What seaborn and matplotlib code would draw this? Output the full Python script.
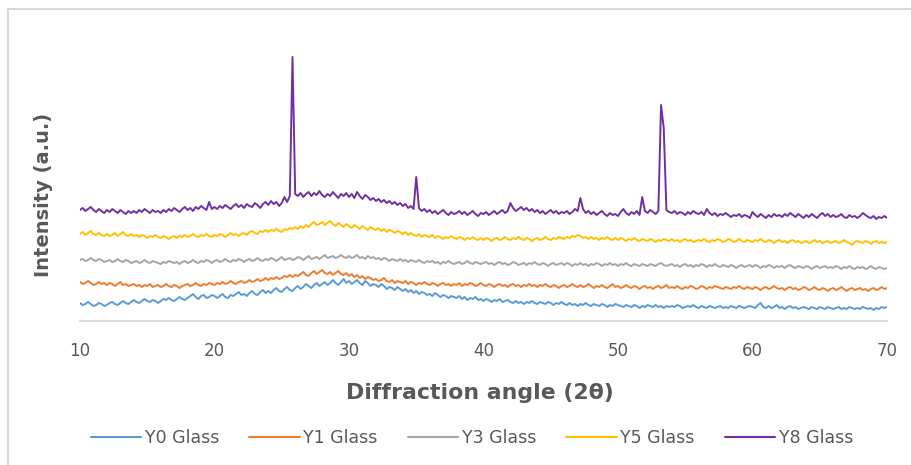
import numpy as np
import pandas as pd
import matplotlib
matplotlib.use("Agg")
import matplotlib.pyplot as plt
from matplotlib.lines import Line2D
import seaborn as sns

# Scan grid: 10-70 degrees 2-theta, 0.2 degree step
angles = np.round(np.arange(10.0, 70.0001, 0.2), 1)

series_names = ["Y0 Glass", "Y1 Glass", "Y3 Glass", "Y5 Glass", "Y8 Glass"]
series_colors = ["#5B9BD5", "#ED7D31", "#A5A5A5", "#FFC000", "#7030A0"]

# Intensities (a.u.), patterns already stacked with their vertical offsets
y0 = [
    18, 16, 17, 19, 17, 15, 16, 18, 17, 15,
    16, 18, 19, 17, 16, 18, 20, 18, 17, 19,
    21, 19, 18, 20, 22, 20, 19, 21, 20, 18,
    20, 22, 21, 23, 21, 20, 22, 24, 22, 21,
    23, 25, 27, 24, 22, 25, 26, 23, 24, 26,
    25, 23, 25, 27, 24, 23, 26, 25, 27, 29,
    26, 27, 25, 28, 30, 27, 26, 29, 31, 28,
    30, 28, 31, 33, 30, 29, 32, 34, 31, 30,
    33, 35, 32, 34, 37, 35, 33, 36, 38, 35,
    37, 39, 36, 38, 41, 38, 36, 39, 42, 38,
    40, 37, 39, 41, 38, 36, 40, 38, 35, 37,
    36, 34, 37, 35, 32, 34, 33, 31, 34, 32,
    30, 32, 29, 31, 28, 30, 27, 29, 28, 26,
    27, 25, 28, 26, 24, 26, 25, 23, 25, 24,
    23, 25, 22, 24, 21, 23, 22, 24, 21, 22,
    20, 22, 21, 19, 21, 20, 22, 19, 20, 21,
    19, 18, 20, 18, 19, 17, 19, 18, 20, 18,
    17, 19, 18, 17, 19, 18, 16, 18, 17, 19,
    17, 16, 18, 16, 17, 15, 17, 16, 18, 16,
    15, 17, 16, 15, 17, 16, 14, 16, 15, 17,
    16, 15, 14, 16, 15, 14, 16, 15, 13, 15,
    14, 16, 15, 14, 16, 14, 15, 13, 15, 14,
    15, 14, 16, 15, 13, 14, 15, 14, 16, 14,
    13, 15, 14, 13, 15, 14, 13, 14, 15, 13,
    14, 13, 15, 14, 13, 15, 14, 13, 14, 15,
    14, 13, 16, 18, 14, 13, 15, 13, 14, 16,
    13, 14, 12, 14, 15, 13, 14, 12, 13, 14,
    13, 12, 14, 13, 12, 14, 13, 12, 14, 13,
    12, 13, 14, 12, 13, 12, 14, 13, 12, 13,
    12, 14, 13, 12, 13, 11, 13, 12, 14, 13,
    14,
]

y1 = [
    39, 37, 38, 40, 38, 36, 37, 39, 37, 38,
    36, 38, 37, 35, 37, 39, 36, 37, 35, 36,
    37, 35, 36, 34, 36, 35, 37, 34, 35, 36,
    34, 35, 37, 35, 34, 36, 35, 33, 35, 36,
    37, 35, 36, 38, 36, 35, 37, 36, 38, 37,
    36, 38, 37, 39, 37, 38, 40, 38, 37, 39,
    40, 38, 39, 41, 39, 40, 42, 40, 41, 43,
    41, 43, 42, 44, 42, 43, 45, 44, 46, 44,
    46, 45, 47, 49, 46, 45, 48, 50, 47, 49,
    51, 48, 47, 49, 46, 48, 50, 47, 46, 48,
    45, 47, 44, 46, 43, 45, 42, 44, 43, 41,
    42, 40, 41, 43, 40, 39, 41, 38, 40, 39,
    38, 40, 37, 39, 38, 36, 38, 37, 39, 37,
    36, 38, 37, 35, 37, 38, 36, 37, 35, 37,
    36, 38, 35, 37, 36, 38, 37, 35, 36, 38,
    36, 35, 37, 36, 34, 36, 37, 35, 36, 34,
    36, 37, 35, 36, 34, 36, 35, 37, 35, 36,
    34, 36, 35, 37, 35, 34, 36, 35, 33, 35,
    36, 34, 35, 37, 35, 34, 36, 34, 35, 37,
    35, 33, 35, 34, 36, 34, 33, 35, 37, 34,
    35, 33, 34, 36, 34, 33, 35, 34, 32, 34,
    35, 33, 34, 32, 34, 35, 33, 34, 36, 33,
    34, 33, 35, 33, 32, 34, 33, 35, 34, 32,
    33, 35, 34, 32, 34, 33, 35, 34, 33, 32,
    34, 33, 32, 34, 33, 35, 33, 32, 34, 33,
    32, 34, 33, 31, 33, 34, 32, 33, 35, 33,
    32, 33, 31, 33, 34, 32, 33, 31, 32, 34,
    33, 31, 32, 34, 32, 31, 33, 32, 30, 32,
    33, 31, 32, 34, 32, 30, 32, 33, 31, 32,
    33, 31, 32, 30, 32, 33, 31, 32, 34, 32,
    33,
]

y3 = [
    61, 62, 60, 61, 63, 61, 60, 62, 61, 59,
    60, 61, 59, 60, 62, 60, 59, 61, 60, 58,
    59, 60, 58, 59, 61, 59, 58, 60, 59, 58,
    57, 59, 58, 60, 59, 58, 59, 57, 59, 60,
    58, 59, 61, 59, 58, 60, 59, 61, 60, 58,
    60, 61, 59, 60, 62, 60, 59, 61, 60, 62,
    61, 59, 61, 62, 60, 61, 63, 61, 60, 62,
    61, 63, 62, 60, 62, 64, 61, 62, 63, 61,
    62, 64, 63, 61, 63, 65, 62, 63, 64, 62,
    64, 66, 63, 64, 65, 63, 64, 66, 64, 63,
    65, 63, 64, 66, 63, 64, 62, 65, 63, 64,
    62, 63, 61, 63, 62, 60, 62, 61, 60, 62,
    60, 61, 59, 61, 60, 59, 61, 59, 58, 60,
    59, 60, 58, 59, 57, 59, 58, 60, 58, 57,
    58, 59, 57, 58, 60, 58, 57, 59, 58, 57,
    58, 59, 57, 58, 56, 58, 59, 57, 58, 56,
    57, 59, 58, 56, 57, 58, 56, 58, 57, 59,
    57, 56, 58, 57, 55, 57, 58, 56, 57, 58,
    56, 58, 57, 55, 57, 56, 58, 56, 57, 55,
    57, 56, 58, 57, 55, 57, 56, 58, 56, 57,
    55, 57, 56, 58, 56, 55, 57, 56, 55, 57,
    56, 55, 57, 56, 55, 57, 58, 56, 55, 56,
    57, 55, 56, 54, 56, 57, 55, 56, 54, 56,
    55, 57, 56, 54, 56, 55, 57, 55, 54, 56,
    55, 54, 56, 55, 53, 55, 56, 54, 55, 56,
    54, 56, 55, 53, 55, 54, 56, 55, 53, 55,
    54, 55, 53, 55, 56, 54, 53, 55, 54, 53,
    55, 54, 52, 54, 55, 53, 54, 55, 53, 54,
    53, 55, 54, 52, 54, 53, 55, 53, 52, 54,
    53, 54, 52, 53, 55, 53, 52, 54, 53, 52,
    53,
]

y5 = [
    87, 89, 86, 88, 90, 87, 86, 88, 86, 85,
    87, 85, 86, 88, 85, 87, 89, 86, 85, 87,
    85, 86, 84, 86, 85, 83, 85, 84, 86, 84,
    83, 85, 84, 82, 84, 85, 83, 85, 84, 86,
    84, 85, 87, 85, 84, 86, 85, 87, 85, 84,
    86, 85, 87, 86, 84, 86, 88, 86, 87, 85,
    87, 88, 86, 89, 90, 88, 87, 90, 89, 91,
    89, 91, 90, 92, 90, 89, 92, 91, 93, 92,
    94, 92, 95, 93, 96, 94, 97, 99, 96, 97,
    99, 96, 98, 100, 97, 95, 98, 96, 94, 97,
    95, 93, 96, 94, 92, 95, 93, 91, 94, 92,
    91, 93, 90, 92, 89, 91, 90, 88, 90, 89,
    87, 89, 86, 88, 86, 85, 87, 84, 86, 85,
    84, 86, 83, 85, 84, 82, 84, 83, 85, 83,
    82, 84, 83, 81, 83, 82, 84, 82, 81, 83,
    81, 83, 82, 80, 82, 83, 81, 82, 84, 82,
    81, 83, 82, 84, 82, 81, 83, 82, 80, 82,
    83, 81, 82, 84, 82, 81, 83, 82, 84, 83,
    82, 84, 83, 85, 84, 86, 85, 83, 84, 82,
    84, 82, 83, 81, 83, 82, 84, 82, 81, 83,
    81, 83, 82, 80, 82, 81, 83, 81, 80, 82,
    81, 80, 82, 81, 79, 81, 80, 82, 81, 80,
    82, 80, 81, 79, 81, 82, 80, 81, 79, 80,
    81, 80, 82, 80, 79, 81, 80, 82, 81, 79,
    80, 82, 81, 79, 80, 82, 80, 79, 81, 80,
    79, 81, 80, 82, 80, 79, 81, 80, 78, 80,
    81, 79, 80, 78, 80, 81, 79, 80, 78, 79,
    80, 78, 79, 81, 79, 80, 78, 79, 80, 78,
    79, 80, 78, 79, 81, 79, 78, 76, 79, 80,
    79, 78, 80, 79, 77, 79, 80, 78, 79, 78,
    79,
]

y8 = [
    111, 113, 110, 112, 114, 111, 109, 112, 110, 108,
    111, 109, 112, 110, 108, 111, 109, 107, 110, 108,
    110, 108, 111, 109, 112, 110, 108, 111, 109, 110,
    108, 111, 109, 112, 110, 113, 111, 109, 112, 114,
    111, 113, 110, 114, 112, 115, 113, 111, 119, 112,
    114, 112, 115, 113, 116, 114, 112, 115, 117, 114,
    116, 113, 117, 115, 114, 118, 116, 113, 117, 119,
    116, 120, 117, 119, 115, 118, 124, 119, 125, 264,
    127, 125, 128, 124, 127, 129, 125, 128, 126, 130,
    126, 124, 127, 125, 129, 126, 123, 127, 125, 128,
    124, 127, 123, 129, 125, 122, 126, 124, 121, 123,
    120, 122, 119, 121, 118, 120, 117, 119, 116, 118,
    115, 117, 113, 115, 112, 144, 113, 110, 112, 109,
    111, 108, 110, 107, 109, 111, 108, 106, 109, 107,
    108, 110, 107, 109, 106, 108, 110, 107, 105, 108,
    107, 109, 106, 108, 110, 107, 109, 111, 108, 110,
    118, 113, 110, 112, 114, 111, 113, 110, 112, 109,
    111, 108, 110, 107, 109, 111, 108, 110, 107, 109,
    108, 110, 107, 109, 112, 110, 123, 112, 108, 110,
    107, 109, 106, 108, 110, 107, 105, 108, 106, 107,
    105, 109, 112, 108, 106, 109, 107, 110, 106, 124,
    110, 108, 111, 109, 107, 110, 216, 193, 111, 109,
    108, 110, 107, 109, 108, 106, 109, 107, 110, 108,
    107, 109, 106, 112, 108, 106, 108, 105, 107, 106,
    108, 106, 104, 106, 105, 107, 104, 106, 105, 103,
    109, 106, 104, 107, 105, 103, 106, 104, 107, 105,
    106, 104, 107, 105, 108, 106, 104, 107, 105, 103,
    106, 104, 107, 105, 103, 106, 108, 105, 107, 104,
    106, 104, 105, 107, 104, 103, 106, 104, 105, 103,
    105, 108, 106, 104, 103, 105, 102, 104, 103, 105,
    103,
]

x_ticks = [10, 20, 30, 40, 50, 60, 70]

frames = []
for name, vals in zip(series_names, [y0, y1, y3, y5, y8]):
    frames.append(pd.DataFrame({"angle": angles, "intensity": vals, "sample": name}))
df = pd.concat(frames, ignore_index=True)

sns.set_theme(style="white")
plt.rcParams["font.family"] = ["DejaVu Sans"]

text_gray = "#595959"
fig = plt.figure(figsize=(9.12, 4.65), dpi=100)
ax = fig.add_axes([80 / 912, 144 / 465, 807 / 912, 296 / 465])

sns.lineplot(
    data=df, x="angle", y="intensity", hue="sample",
    hue_order=series_names, palette=dict(zip(series_names, series_colors)),
    estimator=None, sort=False, linewidth=1.4, ax=ax, legend=False,
)

ax.set_xlim(10, 70)
ax.set_ylim(0, 296)
ax.set_xticks(x_ticks)
ax.set_xticklabels([str(t) for t in x_ticks], fontsize=12, color=text_gray)
ax.set_yticks([])
ax.tick_params(axis="x", length=0, pad=15)
ax.set_xlabel("")
ax.set_ylabel("")
for side in ["top", "right", "left"]:
    ax.spines[side].set_visible(False)
ax.spines["bottom"].set_color("#D9D9D9")
ax.spines["bottom"].set_linewidth(1.3)
ax.set_facecolor("white")

fig.text(480 / 912, 1 - 393 / 465, "Diffraction angle (2θ)", ha="center", va="center",
         fontsize=15.8, fontweight="bold", color=text_gray)
fig.text(44 / 912, 1 - 195 / 465, "Intensity (a.u.)", ha="center", va="center",
         rotation=90, fontsize=14, fontweight="bold", color=text_gray)

handles = [Line2D([], [], color=c, lw=1.5) for c in series_colors]
fig.legend(handles, series_names, loc="center", bbox_to_anchor=(472 / 912, 1 - 438 / 465),
           ncol=5, frameon=False, handlelength=2.9, columnspacing=1.75, handletextpad=0.2,
           prop={"size": 12.5}, labelcolor=text_gray)

# light frame along the top and left edges
fig.add_artist(Line2D([8.5 / 912, 8.5 / 912], [0, 1 - 9 / 465], color="#D9D9D9", lw=1.5,
                      transform=fig.transFigure))
fig.add_artist(Line2D([8 / 912, 1], [1 - 9.5 / 465, 1 - 9.5 / 465], color="#D9D9D9", lw=1.5,
                      transform=fig.transFigure))

fig.savefig("out.png", dpi=100, facecolor="white")
